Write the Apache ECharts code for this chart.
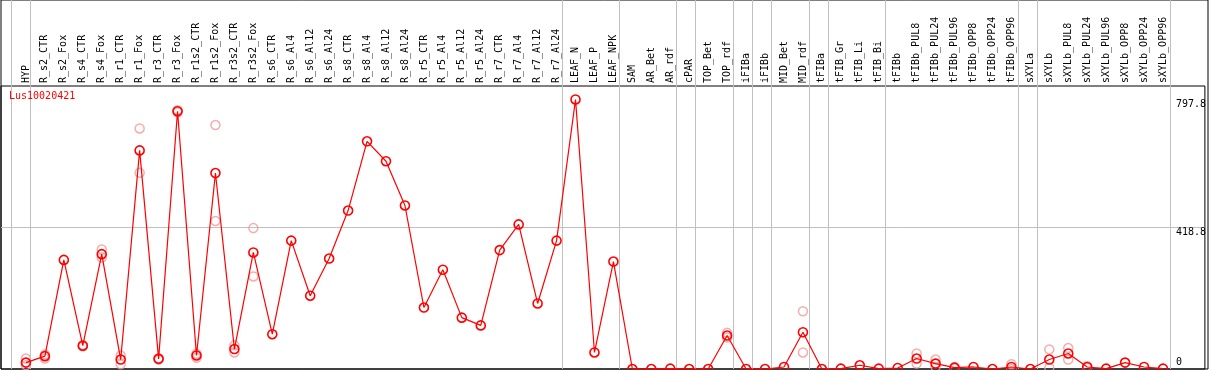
<!DOCTYPE html>
<html>
<head>
<meta charset="utf-8">
<script src="https://cdn.jsdelivr.net/npm/echarts@6/dist/echarts.min.js"></script>
<style>
  html, body { margin: 0; padding: 0; background: #ffffff; }
  #chart { width: 1209px; height: 370px; }
</style>
</head>
<body>
<div id="chart"></div>
<script>
// ---------- data ----------
const title = 'Lus10020421';

const categories = [
  'HYP', 'R_s2_CTR', 'R_s2_Fox', 'R_s4_CTR', 'R_s4_Fox', 'R_r1_CTR', 'R_r1_Fox',
  'R_r3_CTR', 'R_r3_Fox', 'R_r1s2_CTR', 'R_r1s2_Fox', 'R_r3s2_CTR', 'R_r3s2_Fox',
  'R_s6_CTR', 'R_s6_Al4', 'R_s6_Al12', 'R_s6_Al24', 'R_s8_CTR', 'R_s8_Al4',
  'R_s8_Al12', 'R_s8_Al24', 'R_r5_CTR', 'R_r5_Al4', 'R_r5_Al12', 'R_r5_Al24',
  'R_r7_CTR', 'R_r7_Al4', 'R_r7_Al12', 'R_r7_Al24', 'LEAF_N', 'LEAF_P', 'LEAF_NPK',
  'SAM', 'AR_Bet', 'AR_rdf', 'cPAR', 'TOP_Bet', 'TOP_rdf', 'iFIBa', 'iFIBb',
  'MID_Bet', 'MID_rdf', 'tFIBa', 'tFIB_Gr', 'tFIB_Li', 'tFIB_Bi', 'tFIBb',
  'tFIBb_PUL8', 'tFIBb_PUL24', 'tFIBb_PUL96', 'tFIBb_OPP8', 'tFIBb_OPP24', 'tFIBb_OPP96',
  'sXYLa', 'sXYLb', 'sXYLb_PUL8', 'sXYLb_PUL24', 'sXYLb_PUL96', 'sXYLb_OPP8',
  'sXYLb_OPP24', 'sXYLb_OPP96'
];

const meanValues = [
  19, 38, 323, 69, 340, 28, 647,
  30, 763, 40, 580, 59, 345,
  103, 380, 217, 327, 469, 674,
  615, 484, 182, 294, 152, 129,
  352, 428, 194, 380, 797.8, 49, 318,
  0, 0, 1, 0, 0, 99, 0, 0,
  6, 109, 0, 1, 11, 1, 3,
  31, 16, 4, 6, 0, 6,
  0, 28, 46, 6, 1, 19,
  6, 1
];

const replicateA = [
  31, 43, null, 71, 354, 40, 712,
  32, 766, 45, 722, 70, 417,
  null, null, null, null, null, null,
  null, null, null, null, null, null,
  null, null, null, null, null, null, null,
  null, null, null, null, null, 107, null, null,
  null, 171, null, null, null, null, null,
  46, 28, 6, null, null, 14,
  null, 58, 62, 8, null, null,
  null, null
];

const replicateB = [
  11, 31, null, 67, 330, 14, 581,
  28, 760, 33, 438, 49, 274,
  null, null, null, null, null, null,
  null, null, null, null, null, null,
  null, null, null, null, null, null, null,
  null, null, null, null, null, 93, null, null,
  null, 49, null, null, null, null, null,
  16, 6, 2, null, null, 0,
  null, 4, 28, 4, null, null,
  null, null
];

// indices of categories after which a grey separator is drawn (-1 = before first)
const separatorsAfter = [-1, 0, 28, 31, 34, 35, 37, 38, 39, 41, 42, 45, 52, 53, 60];

const yTickValues = [0, 418.8, 797.8];

// ---------- layout / style ----------
const W = 1209, H = 370;
const GRID_L = 1, GRID_R = 1, HEADER_H = 86, GRID_B = 1;
const FIRST_X = 26, STEP = 19;          // pixel x of first category and spacing
const SEP_OFFSET = 4.5 / STEP;          // separator sits a little right of its category
const xMin = (GRID_L - FIRST_X) / STEP;
const xMax = (W - GRID_R - FIRST_X) / STEP;
const maxVal = Math.max(...meanValues);
const yMax = maxVal * 1.05;
const FONT = 'DejaVu Sans Mono';
const RED = '#ff0000';
const PINK = '#f29a9a';
const GREY = '#c0c0c0';

const pairs = arr => arr.map((v, i) => (v === null ? null : [i, v])).filter(d => d !== null);

const chart = echarts.init(document.getElementById('chart'), null, { renderer: 'canvas', width: W, height: H });

const option = {
  animation: false,
  backgroundColor: '#ffffff',
  title: {
    text: title,
    left: 9, top: 91, padding: 0,
    textStyle: { color: RED, fontSize: 10, fontFamily: FONT, fontWeight: 'normal' }
  },
  grid: [
    { left: GRID_L, right: GRID_R, top: HEADER_H, bottom: GRID_B, show: true, borderColor: '#000', borderWidth: 1, backgroundColor: 'transparent' },
    { left: GRID_L, right: GRID_R, top: 0, bottom: GRID_B, show: true, borderColor: '#000', borderWidth: 1, backgroundColor: 'transparent' }
  ],
  xAxis: [
    {
      gridIndex: 0, type: 'value', position: 'top', min: xMin, max: xMax,
      axisLine: { show: false }, axisTick: { show: false }, splitLine: { show: false },
      axisLabel: {
        customValues: categories.map((_, i) => i),
        formatter: v => categories[Math.round(v)],
        rotate: 90, margin: 3, color: '#000', fontSize: 10, fontFamily: FONT
      }
    },
    {
      gridIndex: 1, type: 'value', min: xMin, max: xMax, show: false
    }
  ],
  yAxis: [
    {
      gridIndex: 0, type: 'value', position: 'right', min: 0, max: yMax, interval: yMax / 2,
      axisLine: { show: false }, axisTick: { show: false },
      splitLine: { show: true, showMinLine: false, showMaxLine: false, lineStyle: { color: GREY, width: 1 } },
      axisLabel: {
        inside: true, margin: 29, align: 'left', verticalAlign: 'top',
        customValues: yTickValues.filter(v => v !== 0),
        formatter: v => (v === 0 ? '0' : v.toFixed(1)),
        color: '#000', fontSize: 10, fontFamily: FONT
      }
    },
    {
      gridIndex: 0, type: 'value', position: 'right', min: 0, max: yMax,
      axisLine: { show: false }, axisTick: { show: false }, splitLine: { show: false },
      axisLabel: {
        inside: true, margin: 29, align: 'left', verticalAlign: 'bottom', padding: [0, 0, 2, 0],
        customValues: yTickValues.filter(v => v === 0),
        formatter: v => (v === 0 ? '0' : v.toFixed(1)),
        color: '#000', fontSize: 10, fontFamily: FONT
      }
    },
    { gridIndex: 1, type: 'value', min: 0, max: 1, show: false }
  ],
  series: [
    {
      type: 'line', xAxisIndex: 1, yAxisIndex: 2, data: [], silent: true, z: 1,
      markLine: {
        silent: true, symbol: ['none', 'none'], animation: false,
        label: { show: false },
        lineStyle: { color: GREY, type: 'solid', width: 1 },
        emphasis: { disabled: true },
        data: separatorsAfter.map(k => ({ xAxis: k + SEP_OFFSET }))
      }
    },
    {
      type: 'scatter', xAxisIndex: 0, yAxisIndex: 0, data: pairs(replicateA), silent: true, z: 3,
      symbol: 'circle', symbolSize: 9,
      itemStyle: { color: 'rgba(255,255,255,0)', borderColor: PINK, borderWidth: 1.5 }
    },
    {
      type: 'scatter', xAxisIndex: 0, yAxisIndex: 0, data: pairs(replicateB), silent: true, z: 3,
      symbol: 'circle', symbolSize: 9,
      itemStyle: { color: 'rgba(255,255,255,0)', borderColor: PINK, borderWidth: 1.5 }
    },
    {
      type: 'line', xAxisIndex: 0, yAxisIndex: 0, data: meanValues.map((v, i) => [i, v]),
      silent: true, z: 5, showAllSymbol: true, clip: false,
      symbol: 'circle', symbolSize: 9,
      lineStyle: { color: RED, width: 1.2 },
      itemStyle: { color: 'rgba(255,255,255,0)', borderColor: RED, borderWidth: 1.6 }
    }
  ]
};

chart.setOption(option);
</script>
</body>
</html>
